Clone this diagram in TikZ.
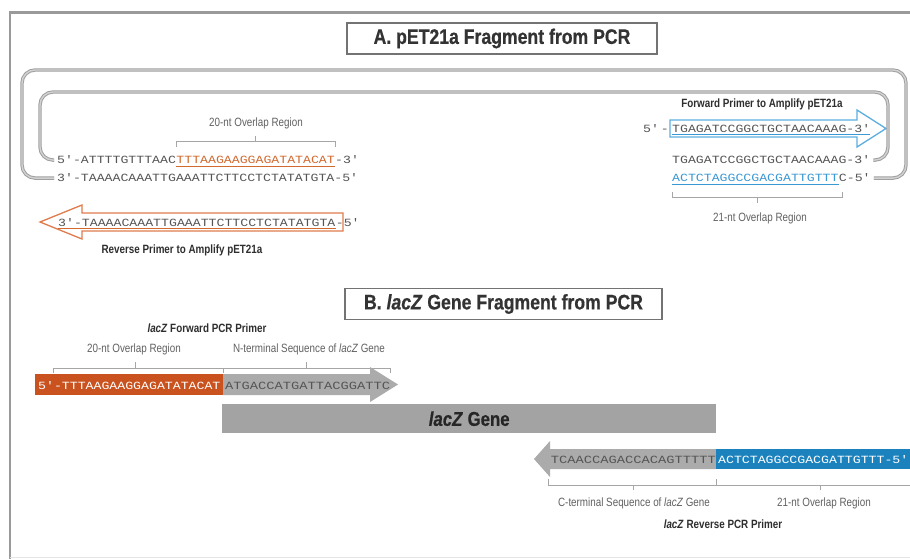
\documentclass[tikz,border=0pt]{standalone}
\usepackage{fontspec}
\setmainfont{Liberation Sans}
\newfontfamily\condf[FakeStretch=0.82]{Liberation Sans}
\newfontfamily\titlef[FakeStretch=0.84, FakeBold=0.6]{Liberation Sans}
\newfontfamily\seqf[FakeStretch=1.2]{Liberation Mono}
\newfontfamily\seqfb[FakeStretch=1.25]{Liberation Mono}
\definecolor{seqgray}{HTML}{555555}
\definecolor{orline}{HTML}{E07B4C}
\definecolor{ortext}{HTML}{D2692F}
\definecolor{orfill}{HTML}{C9521E}
\definecolor{blline}{HTML}{5BAEDF}
\definecolor{bltext}{HTML}{3A98D3}
\definecolor{blfill}{HTML}{1C82BE}
\definecolor{framegray}{HTML}{9A9A9A}
\definecolor{barfill}{HTML}{A3A3A3}
\definecolor{arrfill}{HTML}{ABABAB}
\begin{document}
\begin{tikzpicture}[x=1pt,y=-1pt,
  seq/.style={inner sep=0pt, font=\seqf\fontsize{11}{13}\selectfont, text=seqgray},
  seqb/.style={inner sep=0pt, font=\seqfb\fontsize{11}{13}\selectfont, text=seqgray},
  lbl/.style={inner sep=0pt, font=\condf\fontsize{12}{14}\selectfont, text=black!62},
  blbl/.style={inner sep=0pt, font=\condf\bfseries\fontsize{12}{14}\selectfont, text=black!82},
  titlebox/.style={draw=black!55, line width=1.2pt, minimum height=31pt, inner sep=0pt,
    font=\titlef\bfseries\fontsize{21}{25}\selectfont, text=black!80},
  loopline/.style={draw=gray!75, line width=1pt, double=gray!35, double distance=1.4pt, rounded corners=13pt},
  brk/.style={draw=gray!70, line width=0.8pt},
  oarrow/.style={draw=orline, line width=1.3pt, fill=white, line join=miter},
  barrow/.style={draw=blline, line width=1.3pt, fill=white, line join=miter},
  ulo/.style={draw=ortext, line width=0.8pt},
  ulb/.style={draw=bltext, line width=0.8pt}
]
\useasboundingbox (0,0) rectangle (910,559);
\begin{scope}
\clip (0,0) rectangle (910,559);
\fill[white] (0,0) rectangle (910,559);
% frame
\draw[framegray, line width=3pt] (10,13) -- (915,13);
\draw[framegray, line width=1.6pt] (10,11.5) -- (10,562);
\draw[gray!20, line width=1pt] (10,557.5) -- (915,557.5);

% ---------------- A ----------------
\node[titlebox, minimum width=310pt] (ta) at (502,38.5) {A. pET21a Fragment from PCR};

\coordinate (iTL) at (40,92);
\coordinate (iTR) at (888,92);
\coordinate (oTL) at (22,70);
\coordinate (oTR) at (906,70);

% left double strand
\node[seq, anchor=base west] (l1a) at (57,164) {5'-ATTTTGTTTAAC};
\node[seq, anchor=base west, text=ortext] (l1b) at (l1a.base east) {TTTAAGAAGGAGATATACAT};
\node[seq, anchor=base west] (l1c) at (l1b.base east) {-3'};
\node[seq, anchor=base west] (l2) at (57,182) {3'-TAAAACAAATTGAAATTCTTCCTCTATATGTA-5'};
\draw[ulo] ([yshift=-2.5pt]l1b.base west) -- ([yshift=-2.5pt]l1b.base east);

\coordinate (bA) at (0,141);
\coordinate (bAt) at (0,147);
\coordinate (bAc) at (0,136);
\draw[brk] (l1b.west |- bAt) -- (l1b.west |- bA) -- (l1b.east |- bA) -- (l1b.east |- bAt);
\draw[brk] (l1b.north |- bA) -- (l1b.north |- bAc);
\node[lbl] (ovA) at (256,123) {20-nt Overlap Region};

% reverse primer (A)
\draw[oarrow] (343,213) -- (82,213) -- (82,205) -- (40,222) -- (82,239) -- (82,231) -- (343,231) -- cycle;
\node[seq, anchor=base west] (rp1) at (58,226) {3'-TAAAACAAATTGAAATTCTTCCTCTATATGTA};
\node[seq, anchor=base west] (rp2) at (rp1.base east) {-5'};
\draw[ulo] ([yshift=-2.5pt]rp1.base west) -- ([yshift=-2.5pt]rp1.base east);
\node[blbl] (rpl) at (182,250) {Reverse Primer to Amplify pET21a};

% forward primer (A)
\node[blbl] (fpl) at (762,104) {Forward Primer to Amplify pET21a};
\draw[barrow] (670,120) -- (857,120) -- (857,110) -- (886,128.5) -- (857,147) -- (857,137) -- (670,137) -- cycle;
\node[seq, anchor=base east] (fp0) at (669,132) {5'\,-};
\node[seq, anchor=base west] (fp1) at (672,132) {TGAGATCCGGCTGCTAACAAAG-3'};
\draw[ulb] ([yshift=-2.5pt]fp1.base west) -- ([yshift=-2.5pt]fp1.base east);

% right double strand
\node[seq, anchor=base west] (r1) at (672,164) {TGAGATCCGGCTGCTAACAAAG-3'};
\node[seq, anchor=base west, text=bltext] (r2a) at (672,182) {ACTCTAGGCCGACGATTGTTT};
\node[seq, anchor=base west] (r2b) at (r2a.base east) {C-5'};
\draw[ulb] ([yshift=-2.5pt]r2a.base west) -- ([yshift=-2.5pt]r2a.base east);

\coordinate (bR) at (0,197);
\coordinate (bRt) at (0,192);
\coordinate (bRc) at (0,203);
\draw[brk] (r2a.west |- bRt) -- (r2a.west |- bR) -- ([xshift=4pt]r2a.east |- bR) -- ([xshift=4pt]r2a.east |- bRt);
\draw[brk] ([xshift=2pt]r2a.north |- bR) -- ([xshift=2pt]r2a.north |- bRc);
\node[lbl] (ovR) at (760,218) {21-nt Overlap Region};

% loops
\draw[loopline] ([xshift=-3pt]l1a.west) -- (iTL |- l1a.west) -- (iTL) -- (iTR) -- (iTR |- r1.east) -- ([xshift=3pt]r1.east);
\draw[loopline] ([xshift=-3pt]l2.west) -- (oTL |- l2.west) -- (oTL) -- (oTR) -- (oTR |- r2b.east) -- ([xshift=3pt]r2b.east);

% ---------------- B ----------------
\node[titlebox, minimum width=317pt] (tb) at (503.5,304) {B. \textit{lacZ} Gene Fragment from PCR};

\node[blbl] (fwl) at (207,328) {\textit{lacZ} Forward PCR Primer};
\node[lbl] (ov20) at (134,349) {20-nt Overlap Region};
\node[lbl] (nterm) at (309,349) {N-terminal Sequence of \textit{lacZ} Gene};

\draw[brk] (53,373) -- (53,368) -- (223,368) -- (223,373);
\draw[brk] (135,368) -- (135,362);
\draw[brk] (224,368) -- (390,368) -- (390,373);
\draw[brk] (306,368) -- (306,362);

\fill[orfill] (35,374) rectangle (223,395);
\fill[arrfill] (223,374) -- (370,374) -- (370,367) -- (398,384.5) -- (370,402) -- (370,395) -- (223,395) -- cycle;
\node[seq, anchor=base west, text=white] (bo) at (38,389) {5'-TTTAAGAAGGAGATATACAT};
\node[seqb, anchor=base west] (bg) at (225,389) {ATGACCATGATTACGGATTC};

\node[fill=barfill, minimum width=494pt, minimum height=29pt, inner sep=0pt, anchor=north west,
  font=\titlef\bfseries\fontsize{20}{24}\selectfont, text=black!85] (bar) at (222,404) {\textit{lacZ} Gene};

\fill[arrfill] (716,449) -- (550,449) -- (550,441) -- (534,459) -- (550,477) -- (550,469) -- (716,469) -- cycle;
\fill[blfill] (716,449) rectangle (915,469);
\node[seqb, anchor=base east] (rg) at (716,463) {TCAACCAGACCACAGTTTTT};
\node[seq, anchor=base west, text=white] (rb) at (718,463) {ACTCTAGGCCGACGATTGTTT-5'};

\draw[brk] (548,479) -- (548,485) -- (716,485) -- (716,479);
\draw[brk] (633,485) -- (633,490);
\draw[brk] (717,485) -- (915,485);
\draw[brk] (820,485) -- (820,490);

\node[lbl] (cterm) at (634,503) {C-terminal Sequence of \textit{lacZ} Gene};
\node[lbl] (ov21) at (824,503) {21-nt Overlap Region};
\node[blbl] (rvl) at (723,524) {\textit{lacZ} Reverse PCR Primer};
\end{scope}
\end{tikzpicture}
\end{document}
